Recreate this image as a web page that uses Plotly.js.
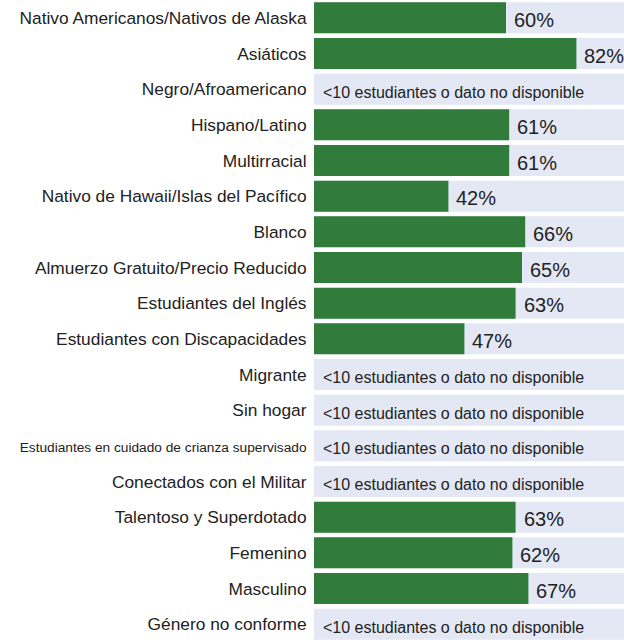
<!DOCTYPE html>
<html>
<head>
<meta charset="utf-8">
<script src="https://cdn.plot.ly/plotly-3.0.1.min.js"></script>
<style>html,body{margin:0;padding:0;background:#fff;}#chart{width:624px;height:642px;}</style>
</head>
<body>
<div id="chart"></div>
<script>
const categories = [
  "Nativo Americanos/Nativos de Alaska",
  "Asiáticos",
  "Negro/Afroamericano",
  "Hispano/Latino",
  "Multirracial",
  "Nativo de Hawaii/Islas del Pacífico",
  "Blanco",
  "Almuerzo Gratuito/Precio Reducido",
  "Estudiantes del Inglés",
  "Estudiantes con Discapacidades",
  "Migrante",
  "Sin hogar",
  "Estudiantes en cuidado de crianza supervisado",
  "Conectados con el Militar",
  "Talentoso y Superdotado",
  "Femenino",
  "Masculino",
  "Género no conforme"
];
const values = [60, 82, null, 61, 61, 42, 66, 65, 63, 47, null, null, null, null, 63, 62, 67, null];
const missingText = "<10 estudiantes o dato no disponible";
const fullScale = categories.map(() => 100);

const FONT = "'Liberation Sans', Arial, Helvetica, sans-serif";
const tickText = categories.map(c => c.length > 40 ? '<span style="font-size:13.7px">' + c + '</span>' : c);

const annotations = [];
categories.forEach((c, i) => {
  const v = values[i];
  if (v === null) {
    annotations.push({x: 0, y: c, xref: 'x', yref: 'y', text: missingText.replace('<', '&lt;'), showarrow: false,
      xanchor: 'left', yanchor: 'middle', xshift: 7, yshift: -3, font: {size: 16, color: '#222', family: FONT}});
  } else {
    annotations.push({x: v, y: c, xref: 'x', yref: 'y', text: v + '%', showarrow: false,
      xanchor: 'left', yanchor: 'middle', xshift: 6, yshift: -2, font: {size: 20, color: '#222', family: FONT}});
  }
});

const data = [
  {type: 'bar', orientation: 'h', y: categories, x: fullScale, marker: {color: '#e4e8f5'}, width: 0.87, hoverinfo: 'skip'},
  {type: 'bar', orientation: 'h', y: categories, x: values, marker: {color: '#317c3a'}, width: 0.87, hoverinfo: 'x'}
];

const layout = {
  width: 624, height: 642,
  margin: {l: 314, r: 0, t: 0, b: 0, pad: 0},
  barmode: 'overlay',
  showlegend: false,
  paper_bgcolor: '#fff', plot_bgcolor: '#fff',
  font: {family: FONT, color: '#222'},
  xaxis: {range: [0, 96.875], visible: false, fixedrange: true},
  yaxis: {autorange: 'reversed', tickmode: 'array', tickvals: categories, ticktext: tickText,
    tickfont: {size: 17.33, color: '#222', family: FONT}, ticks: 'outside', ticklen: 3, tickcolor: 'rgba(0,0,0,0)',
    showgrid: false, zeroline: false, showline: false, fixedrange: true},
  annotations: annotations
};

Plotly.newPlot('chart', data, layout, {displayModeBar: false, staticPlot: true});
</script>
</body>
</html>
